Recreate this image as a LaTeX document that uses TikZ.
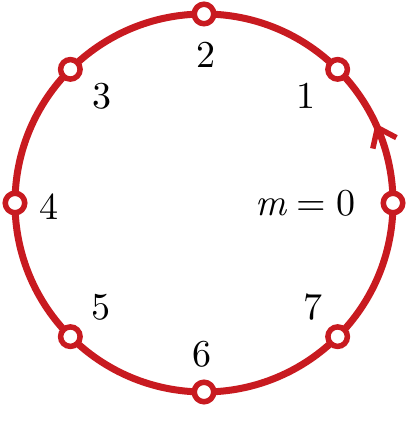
\documentclass[tikz,border=0pt]{standalone}
\usepackage{fontspec}
\setmainfont{lmroman10-regular.otf}[ItalicFont=lmroman10-italic.otf]
\usetikzlibrary{calc,arrows.meta,decorations.markings}
\definecolor{ringred}{RGB}{200,26,32}
\tikzset{
  ring/.style={draw=ringred, line width=7pt},
  station/.style={circle, draw=ringred, line width=5.5pt, fill=white, minimum size=19.5pt, inner sep=0pt},
  lbl/.style={inner sep=0pt, font=\fontsize{38}{45}\selectfont},
}
\begin{document}
\begin{tikzpicture}[x=1pt,y=1pt]
\useasboundingbox (0,0) rectangle (409,438);
\coordinate (C) at (204,235);
\draw[ring, decoration={markings, mark=at position 0.069 with {\arrow{Straight Barb[length=17pt,width=26pt,line width=5.5pt]}}}, postaction=decorate] (C) circle (189);
\foreach \k in {0,...,7}{
  \node[station] (n\k) at ($(C)+(\k*45:189)$) {};
}
\node[lbl, anchor=east] (l0) at (356,235) {\itshape m\upshape\hspace{0.278em}=\hspace{0.278em}0};
\node[lbl] (l1) at ($(C)+(102,107)$) {1};
\node[lbl] (l2) at ($(C)+(2,148)$) {2};
\node[lbl] (l3) at ($(C)+(-102,107)$) {3};
\node[lbl] (l4) at ($(C)+(-155,-4)$) {4};
\node[lbl] (l5) at ($(C)+(-103,-104)$) {5};
\node[lbl] (l6) at ($(C)+(-2,-151)$) {6};
\node[lbl] (l7) at ($(C)+(109,-104)$) {7};
\end{tikzpicture}
\end{document}
